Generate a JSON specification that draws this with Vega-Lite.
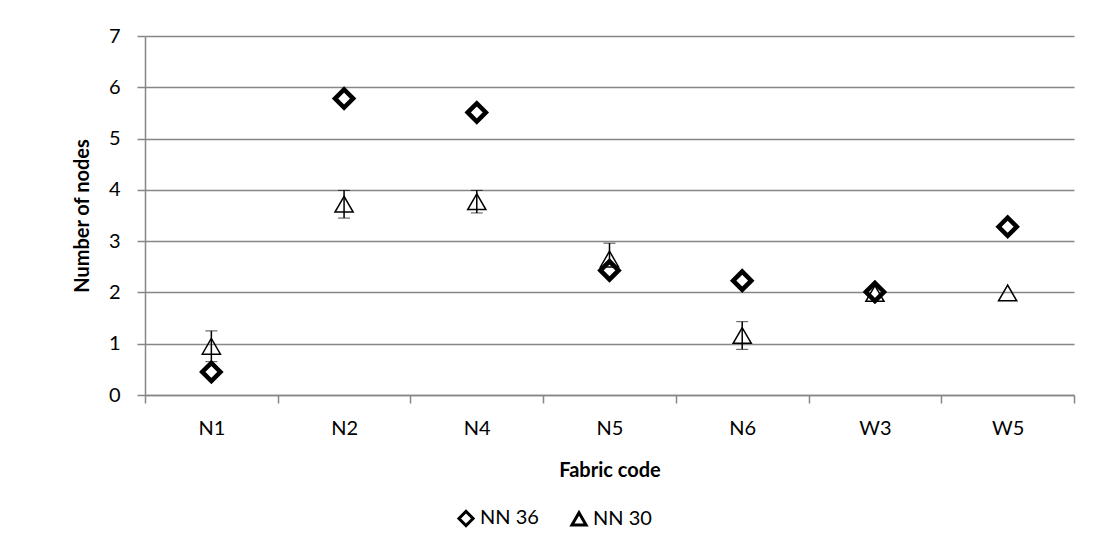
{
  "$schema": "https://vega.github.io/schema/vega-lite/v6.json",
  "width": 929,
  "height": 359,
  "autosize": "none",
  "padding": {"left": 145, "top": 36, "right": 31, "bottom": 164},
  "background": "white",
  "config": {
    "font": "Lato",
    "view": {"stroke": null},
    "axis": {
      "domainColor": "#868686",
      "tickColor": "#868686",
      "gridColor": "#868686",
      "labelColor": "black",
      "titleColor": "black",
      "labelFont": "Lato",
      "titleFont": "Lato",
      "labelFontSize": 20,
      "titleFontSize": 20,
      "titleFontWeight": "bold",
      "tickSize": 8,
      "domainWidth": 1.5,
      "tickWidth": 1.5,
      "gridWidth": 1.5
    },
    "legend": {"labelFont": "Lato", "labelFontSize": 20, "labelColor": "black"}
  },
  "data": {
    "values": [
      {"fabric": "N1", "series": "NN 36", "value": 0.45, "err": 0},
      {"fabric": "N2", "series": "NN 36", "value": 5.78, "err": 0},
      {"fabric": "N4", "series": "NN 36", "value": 5.51, "err": 0},
      {"fabric": "N5", "series": "NN 36", "value": 2.43, "err": 0},
      {"fabric": "N6", "series": "NN 36", "value": 2.23, "err": 0},
      {"fabric": "W3", "series": "NN 36", "value": 2.01, "err": 0},
      {"fabric": "W5", "series": "NN 36", "value": 3.28, "err": 0},
      {"fabric": "N1", "series": "NN 30", "value": 0.95, "err": 0.3},
      {"fabric": "N2", "series": "NN 30", "value": 3.72, "err": 0.27},
      {"fabric": "N4", "series": "NN 30", "value": 3.77, "err": 0.22},
      {"fabric": "N5", "series": "NN 30", "value": 2.65, "err": 0.31},
      {"fabric": "N6", "series": "NN 30", "value": 1.16, "err": 0.27},
      {"fabric": "W3", "series": "NN 30", "value": 1.98, "err": 0.03},
      {"fabric": "W5", "series": "NN 30", "value": 1.99, "err": 0}
    ]
  },
  "encoding": {
    "x": {
      "field": "fabric",
      "type": "nominal",
      "sort": null,
      "scale": {"paddingInner": 0, "paddingOuter": 0},
      "axis": {"title": "Fabric code", "labelAngle": 0, "tickBand": "extent", "labelPadding": 15, "titlePadding": 22, "grid": false}
    },
    "y": {
      "field": "value",
      "type": "quantitative",
      "scale": {"domain": [0, 7]},
      "axis": {"title": "Number of nodes", "values": [0, 1, 2, 3, 4, 5, 6, 7], "labelPadding": 17, "titlePadding": 16, "grid": true}
    }
  },
  "layer": [
    {
      "transform": [{"filter": "datum.series == 'NN 30' && datum.err > 0"}],
      "mark": {"type": "errorbar", "ticks": {"size": 12, "color": "black", "strokeWidth": 1.5}, "rule": {"color": "black", "strokeWidth": 1.5}},
      "encoding": {
        "yError": {"field": "err"}
      }
    },
    {
      "transform": [{"filter": "datum.series == 'NN 36'"}],
      "mark": {"type": "point", "filled": false, "opacity": 1, "fill": "white", "strokeWidth": 4.5, "size": 330},
      "encoding": {
        "shape": {
          "field": "series",
          "type": "nominal",
          "scale": {"domain": ["NN 36", "NN 30"], "range": ["diamond", "triangle-up"]},
          "legend": {"title": null, "orient": "none", "legendX": 311, "legendY": 472, "direction": "horizontal", "columnPadding": 26, "symbolSize": 200, "symbolStrokeWidth": 3}
        },
        "color": {
          "field": "series",
          "type": "nominal",
          "scale": {"domain": ["NN 36", "NN 30"], "range": ["black", "black"]}
        }
      }
    },
    {
      "transform": [{"filter": "datum.series == 'NN 30'"}],
      "mark": {"type": "point", "filled": false, "opacity": 1, "fill": "transparent", "strokeWidth": 1.5, "size": 330},
      "encoding": {
        "shape": {
          "field": "series",
          "type": "nominal",
          "scale": {"domain": ["NN 36", "NN 30"], "range": ["diamond", "triangle-up"]}
        },
        "color": {
          "field": "series",
          "type": "nominal",
          "scale": {"domain": ["NN 36", "NN 30"], "range": ["black", "black"]}
        }
      }
    }
  ]
}
